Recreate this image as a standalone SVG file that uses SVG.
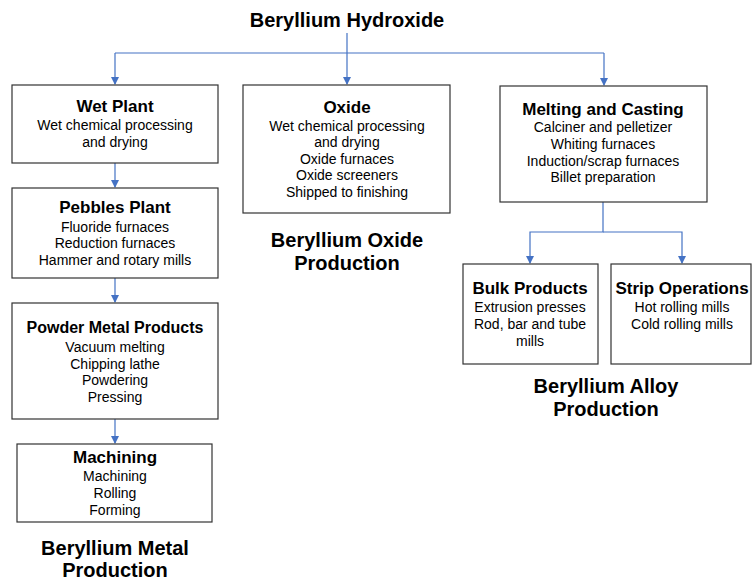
<svg xmlns="http://www.w3.org/2000/svg" width="752" height="580" viewBox="0 0 752 580">
<defs>
<marker id="arr" markerWidth="8" markerHeight="8" refX="7" refY="4" orient="auto" markerUnits="userSpaceOnUse">
<path d="M0,0 L8,4 L0,8 Z" fill="#4472C4"/>
</marker>
<style>
.box{fill:#fff;stroke:#333;stroke-width:1.2}
.ln{fill:none;stroke:#4472C4;stroke-width:1.2}
text{font-family:"Liberation Sans",Arial,sans-serif;fill:#000;text-anchor:middle}
.h{font-weight:bold;font-size:20px}
.t{font-weight:bold;font-size:17px}
.b{font-size:14px}
</style>
</defs>
<rect width="752" height="580" fill="#fff"/>
<text class="h" x="347" y="27">Beryllium Hydroxide</text>
<g id="connectors">
<path class="ln" d="M347,33 V53"/>
<path class="ln" d="M115,53 H604"/>
<path class="ln" d="M115,53 V84" marker-end="url(#arr)"/>
<path class="ln" d="M347,53 V84" marker-end="url(#arr)"/>
<path class="ln" d="M604,53 V85" marker-end="url(#arr)"/>
<path class="ln" d="M115,163 V187" marker-end="url(#arr)"/>
<path class="ln" d="M115,278 V302" marker-end="url(#arr)"/>
<path class="ln" d="M115,419 V443" marker-end="url(#arr)"/>
<path class="ln" d="M603,202 V232 H530 V263" marker-end="url(#arr)"/>
<path class="ln" d="M603,232 H682 V263" marker-end="url(#arr)"/>
</g>
<g id="wet-plant">
<rect class="box" x="12" y="85" width="206" height="78"/>
<text class="t" x="115" y="112">Wet Plant</text>
<text class="b" x="115" y="130">Wet chemical processing</text>
<text class="b" x="115" y="147">and drying</text>
</g>
<g id="pebbles-plant">
<rect class="box" x="12" y="188" width="206" height="90"/>
<text class="t" x="115" y="213">Pebbles Plant</text>
<text class="b" x="115" y="232">Fluoride furnaces</text>
<text class="b" x="115" y="248">Reduction furnaces</text>
<text class="b" x="115" y="265">Hammer and rotary mills</text>
</g>
<g id="powder-metal">
<rect class="box" x="12" y="303" width="206" height="116"/>
<text class="t" x="115" y="333" style="font-size:16px">Powder Metal Products</text>
<text class="b" x="115" y="352">Vacuum melting</text>
<text class="b" x="115" y="369">Chipping lathe</text>
<text class="b" x="115" y="385">Powdering</text>
<text class="b" x="115" y="402">Pressing</text>
</g>
<g id="machining">
<rect class="box" x="17" y="444" width="195" height="78"/>
<text class="t" x="115" y="463">Machining</text>
<text class="b" x="115" y="481">Machining</text>
<text class="b" x="115" y="498">Rolling</text>
<text class="b" x="115" y="515">Forming</text>
</g>
<g id="metal-label">
<text class="h" x="115" y="555">Beryllium Metal</text>
<text class="h" x="115" y="577">Production</text>
</g>
<g id="oxide">
<rect class="box" x="243" y="85" width="207" height="128"/>
<text class="t" x="347" y="113">Oxide</text>
<text class="b" x="347" y="131">Wet chemical processing</text>
<text class="b" x="347" y="147">and drying</text>
<text class="b" x="347" y="164">Oxide furnaces</text>
<text class="b" x="347" y="180">Oxide screeners</text>
<text class="b" x="347" y="197">Shipped to finishing</text>
</g>
<g id="oxide-label">
<text class="h" x="347" y="247">Beryllium Oxide</text>
<text class="h" x="347" y="270">Production</text>
</g>
<g id="melting-casting">
<rect class="box" x="500" y="86" width="207" height="116"/>
<text class="t" x="603" y="115">Melting and Casting</text>
<text class="b" x="603" y="132">Calciner and pelletizer</text>
<text class="b" x="603" y="149">Whiting furnaces</text>
<text class="b" x="603" y="166">Induction/scrap furnaces</text>
<text class="b" x="603" y="182">Billet preparation</text>
</g>
<g id="bulk-products">
<rect class="box" x="463" y="264" width="135" height="100"/>
<text class="t" x="530" y="294">Bulk Products</text>
<text class="b" x="530" y="312">Extrusion presses</text>
<text class="b" x="530" y="329">Rod, bar and tube</text>
<text class="b" x="530" y="346">mills</text>
</g>
<g id="strip-operations">
<rect class="box" x="611" y="264" width="140" height="100"/>
<text class="t" x="682" y="294">Strip Operations</text>
<text class="b" x="682" y="312">Hot rolling mills</text>
<text class="b" x="682" y="329">Cold rolling mills</text>
</g>
<g id="alloy-label">
<text class="h" x="606" y="393">Beryllium Alloy</text>
<text class="h" x="606" y="416">Production</text>
</g>
</svg>
